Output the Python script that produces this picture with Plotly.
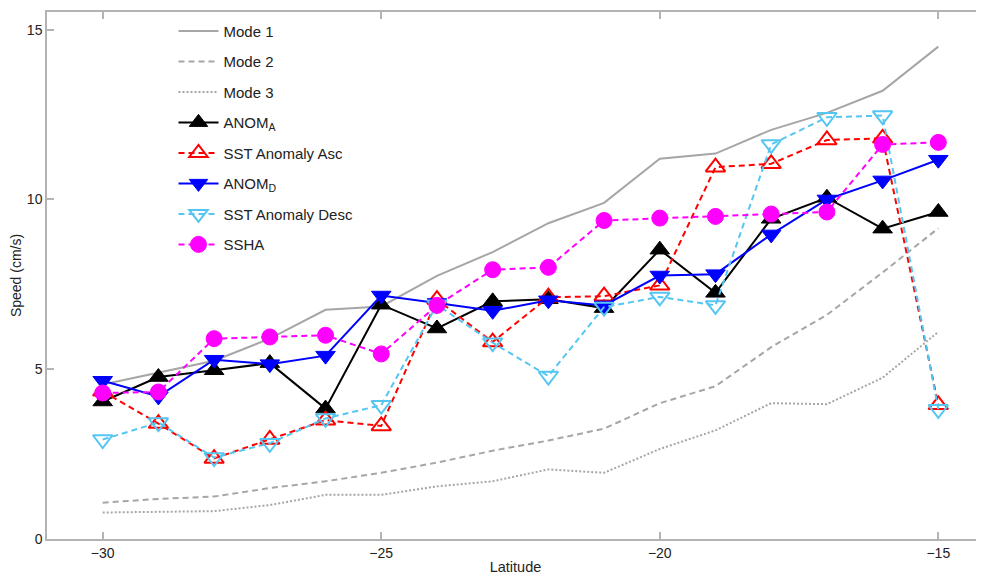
import plotly.graph_objects as go

lat = [-30, -29, -28, -27, -26, -25, -24, -23, -22, -21, -20, -19, -18, -17, -16, -15]
mode1 = [4.55, 4.9, 5.25, 5.9, 6.75, 6.85, 7.75, 8.45, 9.3, 9.9, 11.2, 11.35, 12.05, 12.55, 13.2, 14.5]
mode2 = [1.07, 1.18, 1.25, 1.5, 1.7, 1.95, 2.25, 2.6, 2.9, 3.25, 4.0, 4.5, 5.65, 6.6, 7.85, 9.15]
mode3 = [0.78, 0.8, 0.82, 1.0, 1.3, 1.3, 1.55, 1.7, 2.05, 1.95, 2.65, 3.2, 4.0, 3.97, 4.75, 6.1]
anom_a = [4.05, 4.77, 4.97, 5.18, 3.84, 6.9, 6.2, 7.0, 7.06, 6.8, 8.52, 7.25, 9.43, 10.05, 9.14, 9.63]
sst_asc = [4.35, 3.4, 2.37, 2.93, 3.5, 3.33, 7.05, 5.8, 7.12, 7.15, 7.47, 10.95, 11.05, 11.75, 11.8, 3.95]
anom_d = [4.66, 4.2, 5.28, 5.15, 5.4, 7.17, 6.95, 6.72, 7.03, 6.88, 7.76, 7.8, 8.97, 10.0, 10.56, 11.17]
sst_desc = [2.93, 3.43, 2.4, 2.82, 3.55, 3.94, 6.9, 5.78, 4.8, 6.83, 7.13, 6.88, 11.62, 12.42, 12.47, 3.82]
ssha = [4.3, 4.33, 5.9, 5.95, 6.0, 5.45, 6.88, 7.93, 8.0, 9.38, 9.45, 9.5, 9.57, 9.63, 11.62, 11.68]

x_ticks = [-30, -25, -20, -15]
y_ticks = [0, 5, 10, 15]

FONT = "Liberation Sans, Arial, Helvetica, sans-serif"
DASH = "6px,4px"

fig = go.Figure()

def add(name, y, color, dash, width, symbol=None, fill=True, gi=0):
    kw = dict(x=lat, y=y, name=name, legendgroup=f"g{gi}",
              line=dict(color=color, dash=dash, width=width))
    if symbol is None:
        kw["mode"] = "lines"
    else:
        kw["mode"] = "lines+markers"
        size = 16 if symbol == "circle" else 17
        if fill:
            kw["marker"] = dict(symbol=symbol, size=size, color=color,
                                line=dict(color=color, width=1))
        else:
            kw["marker"] = dict(symbol=symbol + "-open", size=size, color=color,
                                line=dict(color=color, width=2))
    fig.add_trace(go.Scatter(**kw))

add("Mode 1", mode1, "#a6a6a6", "solid", 2, gi=1)
add("Mode 2", mode2, "#a6a6a6", DASH, 2, gi=2)
add("Mode 3", mode3, "#a6a6a6", "2px,2px", 2, gi=3)
add("ANOM<sub>A</sub>", anom_a, "#000000", "solid", 2, "triangle-up", True, gi=4)
add("SST Anomaly Asc", sst_asc, "#ff0000", DASH, 2, "triangle-up", False, gi=5)
add("ANOM<sub>D</sub>", anom_d, "#0000ff", "solid", 2, "triangle-down", True, gi=6)
add("SST Anomaly Desc", sst_desc, "#55c6f2", DASH, 2, "triangle-down", False, gi=7)
add("SSHA", ssha, "#ff00ff", DASH, 2, "circle", True, gi=8)

axis_common = dict(
    showgrid=False, zeroline=False, showline=True, linecolor="#b3b3b3", linewidth=1.5,
    ticks="inside", ticklen=7, tickcolor="#b3b3b3", tickwidth=1.5, automargin=False,
    tickfont=dict(family=FONT, size=14, color="#222222"),
)

fig.update_xaxes(range=[-31, -14.18], tickvals=x_ticks,
                 ticktext=["\u221230", "\u221225", "\u221220", "\u221215"],
                 mirror="ticks",
                 title=dict(text="Latitude", font=dict(family=FONT, size=14.5, color="#222222"), standoff=2),
                 **axis_common)
fig.update_yaxes(range=[0, 15.52], tickvals=y_ticks, mirror=False,
                 title=dict(text="Speed (cm/s)", font=dict(family=FONT, size=14, color="#222222"), standoff=8),
                 **axis_common)

# page body has an 8px margin; compensate so the plot area sits where the reference has it
fig.update_layout(
    width=976, height=567,
    margin=dict(l=39, r=0, t=4, b=36),
    plot_bgcolor="white", paper_bgcolor="white",
    font=dict(family=FONT, size=14, color="#222222"),
    legend=dict(x=0.135, y=0.995, xanchor="left", yanchor="top",
                bgcolor="rgba(255,255,255,0)", borderwidth=0,
                tracegroupgap=8, itemwidth=40,
                font=dict(family=FONT, size=15, color="#222222")),
    showlegend=True,
)

fig.write_html("out.html")
